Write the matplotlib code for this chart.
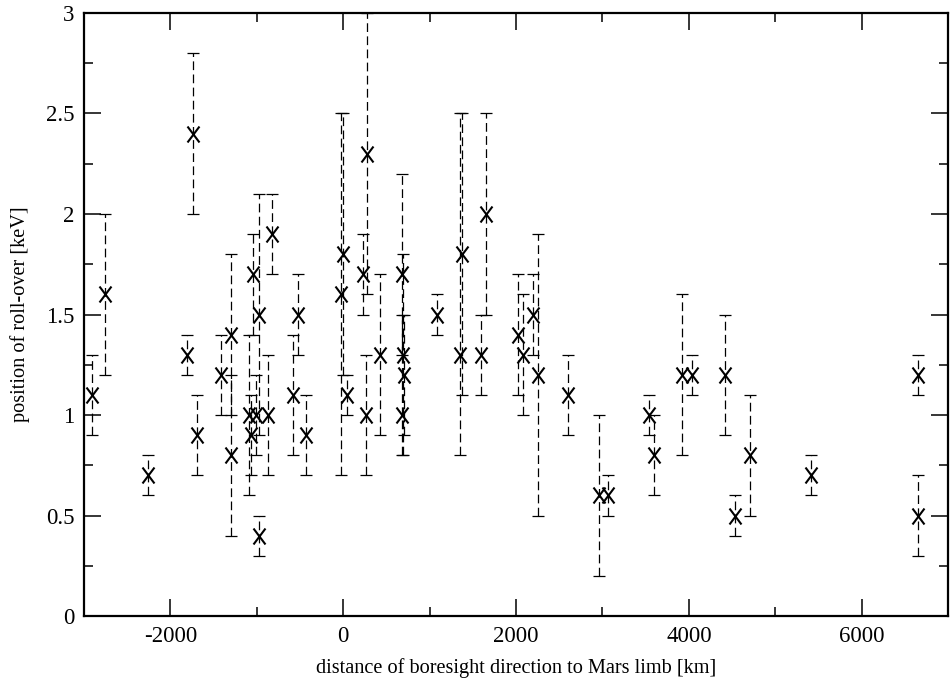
import matplotlib
matplotlib.use("Agg")
import matplotlib.pyplot as plt
from matplotlib.path import Path
from matplotlib.ticker import MultipleLocator
import numpy as np

# distance of boresight direction to Mars limb [km]
dist_km = [-2910, -2760, -2263, -1805, -1735, -1697, -1412, -1297, -1297,
           -1085, -1062, -1040, -1005, -970, -970, -866, -820, -577, -520, -427,
           -20, 0, 45, 230, 265, 275, 427, 680, 690, 700, 680,
           1085, 1350, 1375, 1594, 1650, 2020, 2080, 2196, 2250, 2600,
           2960, 3060, 3535, 3600, 3925, 4040, 4420, 4535, 4710, 5415, 6650, 6650]
# position of roll-over [keV]
rollover = [1.1, 1.6, 0.7, 1.3, 2.4, 0.9, 1.2, 1.4, 0.8,
            1.0, 0.9, 1.7, 1.0, 1.5, 0.4, 1.0, 1.9, 1.1, 1.5, 0.9,
            1.6, 1.8, 1.1, 1.7, 1.0, 2.3, 1.3, 1.7, 1.3, 1.2, 1.0,
            1.5, 1.3, 1.8, 1.3, 2.0, 1.4, 1.3, 1.5, 1.2, 1.1,
            0.6, 0.6, 1.0, 0.8, 1.2, 1.2, 1.2, 0.5, 0.8, 0.7, 1.2, 0.5]
# lower and upper bounds of the error bars [keV]
lower = [0.9, 1.2, 0.6, 1.2, 2.0, 0.7, 1.0, 1.0, 0.4,
         0.6, 0.7, 1.4, 0.8, 0.9, 0.3, 0.7, 1.7, 0.8, 1.3, 0.7,
         0.7, 1.2, 1.0, 1.5, 0.7, 1.6, 0.9, 1.3, 0.8, 0.9, 0.8,
         1.4, 0.8, 1.1, 1.1, 1.5, 1.1, 1.0, 1.3, 0.5, 0.9,
         0.2, 0.5, 0.9, 0.6, 0.8, 1.1, 0.9, 0.4, 0.5, 0.6, 1.1, 0.3]
upper = [1.3, 2.0, 0.8, 1.4, 2.8, 1.1, 1.4, 1.8, 1.2,
         1.4, 1.1, 1.9, 1.2, 2.1, 0.5, 1.3, 2.1, 1.4, 1.7, 1.1,
         2.5, 2.5, 1.2, 1.9, 1.3, 3.0, 1.7, 2.2, 1.8, 1.5, 1.5,
         1.6, 2.5, 2.5, 1.5, 2.5, 1.7, 1.6, 1.7, 1.9, 1.3,
         1.0, 0.7, 1.1, 1.0, 1.6, 1.3, 1.5, 0.6, 1.1, 0.8, 1.3, 0.7]

x = np.array(dist_km, dtype=float)
y = np.array(rollover)
yerr = np.vstack([y - np.array(lower), np.array(upper) - y])

plt.rcParams['font.family'] = ['Liberation Serif', 'DejaVu Serif']

fig = plt.figure(figsize=(9.5, 6.84), dpi=100)
ax = fig.add_axes([0.0884, 0.0994, 0.9096, 0.8816])

eb = ax.errorbar(x, y, yerr=yerr, fmt='none', ecolor='black', elinewidth=0.9,
                 capsize=4.3, capthick=0.9)
for lc in eb[2]:
    lc.set_linestyle((0, (7, 3.5)))

xmark = Path([(-0.75, -1), (0.75, 1), (-0.75, 1), (0.75, -1)],
             [Path.MOVETO, Path.LINETO, Path.MOVETO, Path.LINETO])
ax.plot(x, y, linestyle='none', marker=xmark, markersize=11.5,
        markeredgewidth=1.5, color='black')

ax.set_xlim(-3000, 7000)
ax.set_ylim(0, 3)
ax.xaxis.set_minor_locator(MultipleLocator(1000))
ax.yaxis.set_minor_locator(MultipleLocator(0.25))
ax.set_xticks([-2000, 0, 2000, 4000, 6000])
ax.set_xticklabels(['-2000', '0', '2000', '4000', '6000'])
ax.set_yticks([0, 0.5, 1, 1.5, 2, 2.5, 3])
ax.set_yticklabels(['0', '0.5', '1', '1.5', '2', '2.5', '3'])

ax.tick_params(which='both', direction='in', top=True, right=True, width=1.1,
               labelsize=16.5, color='black')
ax.tick_params(which='major', length=12, pad=7)
ax.tick_params(which='minor', length=6.5)
for s in ax.spines.values():
    s.set_linewidth(1.6)

ax.set_xlabel('distance of boresight direction to Mars limb [km]', fontsize=14.6, labelpad=8)
ax.set_ylabel('position of roll-over [keV]', fontsize=14.6, labelpad=11)

fig.savefig('out.png', dpi=100)
